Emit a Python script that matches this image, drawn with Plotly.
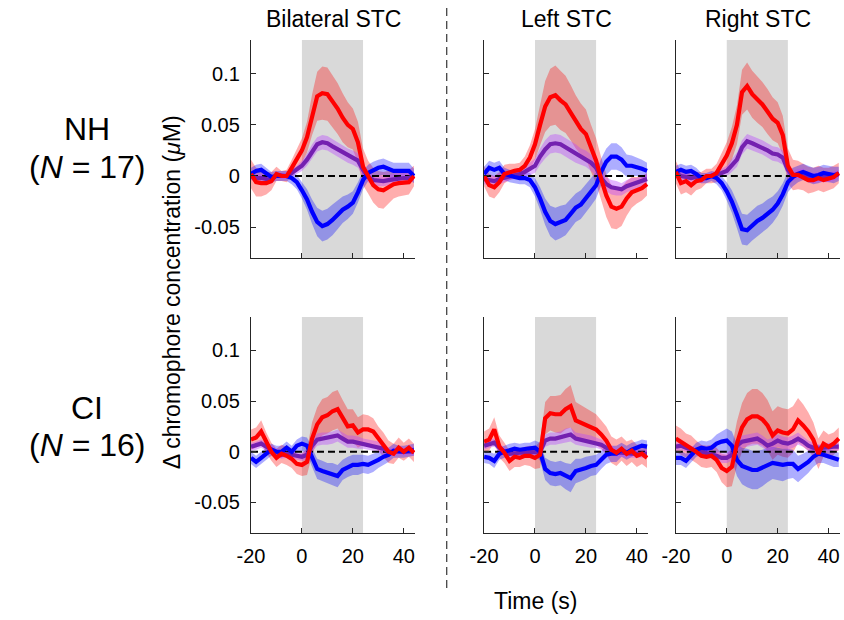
import plotly.graph_objects as go

# ---------------- data ----------------
time_s = [-20, -18, -16, -14, -12, -10, -8, -6, -4, -2, 0, 2, 4, 6, 8, 10, 12, 14,
          16, 18, 20, 22, 24, 26, 28, 30, 32, 34, 36, 38, 40, 42, 44]

# NH, bilateral STC
nh_bil_hbo = [0.002, -0.006, -0.007, -0.007, -0.005, 0.002, 0.0, 0.0, 0.008, 0.016, 0.025, 0.038, 0.06, 0.078, 0.081, 0.08, 0.073, 0.066,
              0.057, 0.05, 0.046, 0.033, 0.009, -0.001, -0.009, -0.013, -0.014, -0.011, -0.008, -0.007, -0.007, -0.006, 0.0]
nh_bil_hbo_err = [0.014, 0.014, 0.013, 0.011, 0.009, 0.007, 0.005, 0.006, 0.008, 0.01, 0.012, 0.015, 0.02, 0.024, 0.026, 0.026, 0.025, 0.025,
                  0.024, 0.022, 0.02, 0.02, 0.018, 0.016, 0.017, 0.018, 0.018, 0.016, 0.014, 0.013, 0.012, 0.012, 0.01]
nh_bil_hbr = [0.002, 0.005, 0.006, 0.002, -0.001, 0.0, 0.0, 0.0, -0.002, -0.006, -0.014, -0.023, -0.035, -0.045, -0.049, -0.047, -0.043, -0.038,
              -0.033, -0.03, -0.026, -0.016, -0.004, 0.003, 0.006, 0.008, 0.009, 0.007, 0.005, 0.005, 0.005, 0.005, 0.0]
nh_bil_hbr_err = [0.006, 0.006, 0.006, 0.006, 0.005, 0.005, 0.005, 0.005, 0.006, 0.007, 0.008, 0.01, 0.012, 0.014, 0.015, 0.015, 0.015, 0.014,
                  0.013, 0.012, 0.011, 0.01, 0.009, 0.008, 0.008, 0.008, 0.008, 0.008, 0.008, 0.008, 0.008, 0.008, 0.007]
nh_bil_hbt = [0.0, -0.002, -0.002, -0.003, -0.004, 0.001, 0.0, 0.0, 0.003, 0.006, 0.01, 0.016, 0.024, 0.031, 0.033, 0.032, 0.029, 0.026,
              0.023, 0.02, 0.018, 0.015, 0.006, -0.001, -0.004, -0.005, -0.005, -0.004, -0.003, -0.002, -0.002, -0.002, 0.0]
nh_bil_hbt_err = [0.004, 0.004, 0.004, 0.004, 0.004, 0.003, 0.003, 0.003, 0.004, 0.004, 0.005, 0.006, 0.007, 0.007, 0.007, 0.007, 0.007, 0.007,
                  0.007, 0.007, 0.007, 0.007, 0.006, 0.005, 0.005, 0.005, 0.005, 0.005, 0.005, 0.005, 0.005, 0.005, 0.004]

# NH, left STC
nh_left_hbo = [0.0, -0.009, -0.011, -0.006, 0.002, 0.004, 0.005, 0.006, 0.01, 0.018, 0.031, 0.05, 0.068, 0.077, 0.079, 0.074, 0.07, 0.062,
               0.053, 0.046, 0.041, 0.027, 0.015, -0.003, -0.019, -0.03, -0.032, -0.03, -0.022, -0.016, -0.014, -0.012, -0.008]
nh_left_hbo_err = [0.01, 0.011, 0.011, 0.01, 0.009, 0.008, 0.007, 0.007, 0.009, 0.012, 0.015, 0.02, 0.025, 0.028, 0.029, 0.029, 0.028, 0.027,
                   0.026, 0.025, 0.024, 0.023, 0.022, 0.021, 0.021, 0.021, 0.02, 0.019, 0.017, 0.015, 0.013, 0.012, 0.011]
nh_left_hbr = [0.002, 0.008, 0.006, 0.008, 0.002, 0.0, -0.001, -0.002, -0.002, -0.004, -0.011, -0.022, -0.035, -0.044, -0.047, -0.045, -0.043, -0.037,
               -0.031, -0.028, -0.022, -0.015, -0.009, 0.004, 0.014, 0.019, 0.019, 0.016, 0.01, 0.01, 0.009, 0.007, 0.005]
nh_left_hbr_err = [0.007, 0.007, 0.007, 0.007, 0.006, 0.006, 0.006, 0.006, 0.006, 0.007, 0.009, 0.011, 0.013, 0.015, 0.016, 0.016, 0.015, 0.015,
                   0.014, 0.014, 0.014, 0.014, 0.013, 0.013, 0.013, 0.013, 0.013, 0.012, 0.011, 0.01, 0.009, 0.009, 0.008]
nh_left_hbt = [-0.003, -0.004, -0.005, -0.003, -0.002, 0.0, 0.001, 0.002, 0.004, 0.007, 0.01, 0.019, 0.026, 0.031, 0.032, 0.031, 0.028, 0.025,
               0.022, 0.019, 0.017, 0.013, 0.008, -0.002, -0.008, -0.011, -0.012, -0.013, -0.01, -0.008, -0.007, -0.005, -0.003]
nh_left_hbt_err = [0.005, 0.005, 0.005, 0.005, 0.004, 0.004, 0.004, 0.004, 0.005, 0.006, 0.007, 0.008, 0.009, 0.009, 0.009, 0.009, 0.009, 0.009,
                   0.009, 0.008, 0.008, 0.008, 0.008, 0.007, 0.007, 0.007, 0.007, 0.006, 0.006, 0.006, 0.005, 0.005, 0.005]

# NH, right STC
nh_right_hbo = [0.004, -0.007, -0.005, -0.009, -0.005, -0.004, 0.0, 0.0, 0.003, 0.012, 0.02, 0.032, 0.05, 0.082, 0.088, 0.08, 0.075, 0.07,
                0.063, 0.056, 0.052, 0.04, 0.01, 0.001, 0.001, -0.001, -0.004, -0.004, -0.002, -0.004, -0.003, -0.001, 0.003]
nh_right_hbo_err = [0.011, 0.011, 0.011, 0.01, 0.009, 0.008, 0.007, 0.007, 0.009, 0.011, 0.013, 0.016, 0.019, 0.022, 0.023, 0.023, 0.023, 0.022,
                    0.022, 0.021, 0.02, 0.019, 0.017, 0.015, 0.014, 0.013, 0.013, 0.012, 0.012, 0.012, 0.011, 0.011, 0.01]
nh_right_hbr = [0.004, 0.006, 0.004, 0.005, 0.002, -0.002, -0.002, 0.0, -0.002, -0.007, -0.015, -0.025, -0.038, -0.052, -0.053, -0.048, -0.044, -0.041,
                -0.037, -0.033, -0.027, -0.018, -0.006, -0.001, 0.002, 0.004, 0.002, 0.0, 0.001, 0.003, 0.002, 0.001, 0.002]
nh_right_hbr_err = [0.006, 0.006, 0.006, 0.006, 0.006, 0.005, 0.005, 0.005, 0.006, 0.007, 0.009, 0.011, 0.013, 0.015, 0.015, 0.015, 0.015, 0.014,
                    0.014, 0.013, 0.012, 0.011, 0.01, 0.009, 0.008, 0.008, 0.008, 0.008, 0.008, 0.008, 0.008, 0.008, 0.007]
nh_right_hbt = [0.003, 0.0, -0.001, -0.002, -0.001, -0.003, -0.001, 0.0, 0.001, 0.003, 0.005, 0.01, 0.016, 0.028, 0.034, 0.032, 0.03, 0.028,
                0.025, 0.022, 0.021, 0.018, 0.006, 0.0, 0.002, 0.002, -0.001, -0.002, -0.001, -0.001, -0.001, 0.0, 0.002]
nh_right_hbt_err = [0.004, 0.004, 0.004, 0.004, 0.004, 0.004, 0.003, 0.003, 0.004, 0.004, 0.005, 0.006, 0.007, 0.007, 0.007, 0.007, 0.007, 0.007,
                    0.007, 0.007, 0.007, 0.007, 0.006, 0.005, 0.005, 0.005, 0.005, 0.005, 0.005, 0.005, 0.005, 0.005, 0.004]

# CI, bilateral STC
ci_bil_hbo = [0.012, 0.014, 0.02, 0.009, 0.0, -0.006, -0.002, -0.004, -0.007, -0.012, -0.013, -0.01, 0.013, 0.027, 0.034, 0.036, 0.04, 0.042,
              0.033, 0.025, 0.026, 0.019, 0.022, 0.022, 0.02, 0.013, 0.007, 0.0, -0.002, 0.004, 0.0, 0.004, -0.001]
ci_bil_hbo_err = [0.01, 0.01, 0.011, 0.01, 0.009, 0.009, 0.009, 0.009, 0.009, 0.01, 0.011, 0.013, 0.016, 0.017, 0.018, 0.018, 0.019, 0.019,
                  0.018, 0.017, 0.016, 0.015, 0.015, 0.014, 0.013, 0.012, 0.012, 0.011, 0.01, 0.01, 0.009, 0.009, 0.009]
ci_bil_hbr = [-0.006, -0.01, -0.006, -0.002, 0.002, 0.0, 0.0, 0.004, 0.0, 0.006, 0.008, 0.006, -0.006, -0.017, -0.019, -0.021, -0.022, -0.024,
              -0.018, -0.015, -0.013, -0.013, -0.012, -0.013, -0.011, -0.008, -0.005, -0.003, 0.001, 0.0, 0.0, 0.001, 0.002]
ci_bil_hbr_err = [0.006, 0.006, 0.006, 0.006, 0.006, 0.006, 0.006, 0.006, 0.006, 0.006, 0.007, 0.008, 0.009, 0.01, 0.01, 0.01, 0.011, 0.011,
                  0.01, 0.01, 0.01, 0.01, 0.009, 0.009, 0.009, 0.008, 0.008, 0.007, 0.007, 0.006, 0.006, 0.006, 0.006]
ci_bil_hbt = [0.005, 0.006, 0.008, 0.005, 0.002, -0.001, -0.003, -0.002, -0.003, -0.004, -0.005, -0.003, 0.006, 0.012, 0.013, 0.013, 0.014, 0.016,
              0.013, 0.01, 0.01, 0.009, 0.008, 0.007, 0.006, 0.005, 0.003, 0.0, 0.0, 0.001, 0.0, 0.001, 0.0]
ci_bil_hbt_err = [0.004, 0.004, 0.004, 0.004, 0.004, 0.004, 0.004, 0.004, 0.004, 0.004, 0.004, 0.005, 0.006, 0.006, 0.006, 0.006, 0.006, 0.006,
                  0.006, 0.006, 0.006, 0.006, 0.005, 0.005, 0.005, 0.005, 0.005, 0.004, 0.004, 0.004, 0.004, 0.004, 0.004]

# CI, left STC
ci_left_hbo = [0.01, 0.012, 0.022, 0.005, -0.001, -0.009, -0.005, -0.006, -0.004, -0.004, -0.006, -0.003, 0.033, 0.038, 0.037, 0.037, 0.042, 0.045,
               0.031, 0.029, 0.027, 0.025, 0.022, 0.017, 0.011, 0.002, -0.001, 0.003, -0.002, 0.001, -0.004, -0.002, -0.006]
ci_left_hbo_err = [0.01, 0.011, 0.012, 0.011, 0.01, 0.01, 0.01, 0.009, 0.009, 0.01, 0.011, 0.013, 0.016, 0.017, 0.018, 0.019, 0.02, 0.021,
                   0.018, 0.017, 0.016, 0.015, 0.015, 0.014, 0.014, 0.013, 0.013, 0.012, 0.012, 0.011, 0.011, 0.01, 0.01]
ci_left_hbr = [-0.005, -0.006, -0.009, -0.002, 0.0, 0.002, 0.003, 0.002, 0.003, 0.003, 0.004, 0.0, -0.017, -0.021, -0.022, -0.021, -0.024, -0.026,
               -0.019, -0.018, -0.016, -0.014, -0.013, -0.008, -0.003, -0.002, -0.002, 0.002, -0.001, 0.002, 0.004, 0.006, 0.005]
ci_left_hbr_err = [0.006, 0.006, 0.007, 0.006, 0.006, 0.006, 0.006, 0.006, 0.006, 0.006, 0.007, 0.009, 0.011, 0.012, 0.012, 0.012, 0.013, 0.014,
                   0.012, 0.011, 0.011, 0.01, 0.01, 0.009, 0.009, 0.008, 0.008, 0.007, 0.007, 0.007, 0.006, 0.006, 0.006]
ci_left_hbt = [0.006, 0.008, 0.009, 0.004, 0.0, -0.002, -0.001, -0.001, -0.001, -0.001, -0.001, 0.0, 0.011, 0.013, 0.013, 0.014, 0.016, 0.017,
               0.013, 0.012, 0.011, 0.01, 0.009, 0.007, 0.004, 0.001, -0.001, -0.001, -0.002, -0.002, -0.002, -0.002, -0.002]
ci_left_hbt_err = [0.004, 0.004, 0.004, 0.004, 0.004, 0.004, 0.004, 0.004, 0.004, 0.004, 0.004, 0.005, 0.006, 0.006, 0.006, 0.006, 0.007, 0.007,
                   0.006, 0.006, 0.006, 0.006, 0.005, 0.005, 0.005, 0.005, 0.004, 0.004, 0.004, 0.004, 0.004, 0.004, 0.004]

# CI, right STC
ci_right_hbo = [0.013, 0.01, 0.006, 0.004, 0.0, -0.004, -0.005, -0.004, -0.008, -0.016, -0.019, -0.015, 0.008, 0.024, 0.032, 0.035, 0.035, 0.032,
                0.026, 0.016, 0.021, 0.019, 0.018, 0.022, 0.031, 0.026, 0.02, 0.012, -0.002, 0.008, 0.005, 0.008, 0.013]
ci_right_hbo_err = [0.013, 0.013, 0.012, 0.012, 0.011, 0.011, 0.011, 0.011, 0.012, 0.014, 0.016, 0.019, 0.022, 0.024, 0.026, 0.027, 0.027, 0.026,
                    0.025, 0.024, 0.024, 0.024, 0.024, 0.023, 0.022, 0.021, 0.019, 0.017, 0.015, 0.013, 0.012, 0.011, 0.011]
ci_right_hbr = [-0.006, -0.006, -0.009, -0.003, 0.002, 0.004, 0.003, 0.004, 0.008, 0.01, 0.011, 0.006, -0.008, -0.014, -0.016, -0.018, -0.018, -0.016,
                -0.013, -0.011, -0.012, -0.013, -0.012, -0.012, -0.017, -0.014, -0.01, -0.005, -0.002, -0.003, -0.005, -0.007, -0.008]
ci_right_hbr_err = [0.007, 0.007, 0.007, 0.007, 0.007, 0.007, 0.007, 0.008, 0.009, 0.01, 0.012, 0.014, 0.016, 0.018, 0.019, 0.019, 0.019, 0.018,
                    0.017, 0.016, 0.016, 0.016, 0.015, 0.014, 0.013, 0.012, 0.011, 0.01, 0.009, 0.008, 0.008, 0.008, 0.007]
ci_right_hbt = [0.005, 0.006, 0.004, 0.002, 0.001, 0.0, -0.001, -0.003, -0.004, -0.006, -0.006, -0.003, 0.006, 0.01, 0.011, 0.012, 0.013, 0.01,
                0.006, 0.008, 0.011, 0.009, 0.008, 0.01, 0.013, 0.01, 0.006, 0.004, 0.003, 0.004, 0.005, 0.005, 0.005]
ci_right_hbt_err = [0.004, 0.004, 0.004, 0.004, 0.004, 0.004, 0.004, 0.004, 0.004, 0.005, 0.005, 0.006, 0.006, 0.006, 0.006, 0.006, 0.006, 0.006,
                    0.006, 0.006, 0.006, 0.006, 0.006, 0.006, 0.006, 0.005, 0.005, 0.005, 0.004, 0.004, 0.004, 0.004, 0.004]

panel_titles = ["Bilateral STC", "Left STC", "Right STC"]
row_names = ["NH", "CI"]
row_counts = [17, 16]
stim_window = [0, 24]
x_range = [-20, 44.5]
y_range = [-0.0802, 0.133]
x_tickvals = [-20, 0, 20, 40]
x_ticktext = ["-20", "0", "20", "40"]
y_tickvals = [-0.05, 0, 0.05, 0.1]
y_ticktext = ["-0.05", "0", "0.05", "0.1"]

panels = [
    (nh_bil_hbo, nh_bil_hbo_err, nh_bil_hbr, nh_bil_hbr_err, nh_bil_hbt, nh_bil_hbt_err),
    (nh_left_hbo, nh_left_hbo_err, nh_left_hbr, nh_left_hbr_err, nh_left_hbt, nh_left_hbt_err),
    (nh_right_hbo, nh_right_hbo_err, nh_right_hbr, nh_right_hbr_err, nh_right_hbt, nh_right_hbt_err),
    (ci_bil_hbo, ci_bil_hbo_err, ci_bil_hbr, ci_bil_hbr_err, ci_bil_hbt, ci_bil_hbt_err),
    (ci_left_hbo, ci_left_hbo_err, ci_left_hbr, ci_left_hbr_err, ci_left_hbt, ci_left_hbt_err),
    (ci_right_hbo, ci_right_hbo_err, ci_right_hbr, ci_right_hbr_err, ci_right_hbt, ci_right_hbt_err),
]

# ---------------- layout geometry (pixels) ----------------
W, H = 844, 620
col_px = [(241, 408), (478, 645), (673, 840)]
row_px = [(40, 258), (317, 533)]

FONT = "Arial, 'Liberation Sans', Helvetica, sans-serif"
AX_COL = "#262626"

RED, BLUE, PURPLE = "#ff0000", "#0000ff", "#7420b0"
RED_BAND = "rgba(255,0,0,0.32)"
BLUE_BAND = "rgba(0,0,255,0.32)"
PURPLE_BAND = "rgba(185,70,255,0.40)"

fig = go.Figure()
layout = dict(
    width=W, height=H, margin=dict(l=0, r=0, t=0, b=0),
    paper_bgcolor="white", plot_bgcolor="white", showlegend=False,
    font=dict(family=FONT, color="#000000"),
)
shapes = []
annotations = []

def band(x, m, e, color, xa, ya):
    up = [a + b for a, b in zip(m, e)]
    lo = [a - b for a, b in zip(m, e)]
    return go.Scatter(x=list(x) + list(x)[::-1], y=up + lo[::-1], fill="toself",
                      fillcolor=color, line=dict(width=0), mode="lines",
                      hoverinfo="skip", xaxis=xa, yaxis=ya)

for idx, (hbo, hbo_e, hbr, hbr_e, hbt, hbt_e) in enumerate(panels):
    r, c = divmod(idx, 3)
    n = idx + 1
    sfx = "" if n == 1 else str(n)
    xa, ya = f"x{sfx}", f"y{sfx}"
    xk, yk = f"xaxis{sfx}", f"yaxis{sfx}"
    x0, x1 = col_px[c]
    y0, y1 = row_px[r]
    layout[xk] = dict(
        domain=[x0 / W, x1 / W], range=x_range, anchor=ya,
        showline=True, linecolor=AX_COL, linewidth=1.3, mirror=False,
        ticks="inside", ticklen=5, tickwidth=1.2, tickcolor=AX_COL,
        tickvals=x_tickvals, ticktext=x_ticktext, showticklabels=(r == 1),
        tickfont=dict(size=20, family=FONT, color="#000"), ticklabelstandoff=5,
        showgrid=False, zeroline=False, fixedrange=True,
    )
    layout[yk] = dict(
        domain=[1 - y1 / H, 1 - y0 / H], range=y_range, anchor=xa,
        showline=True, linecolor=AX_COL, linewidth=1.3, mirror=False,
        ticks="inside", ticklen=5, tickwidth=1.2, tickcolor=AX_COL,
        tickvals=y_tickvals, ticktext=y_ticktext, showticklabels=(c == 0),
        tickfont=dict(size=20, family=FONT, color="#000"), ticklabelstandoff=6,
        showgrid=False, zeroline=False, fixedrange=True,
    )
    # stimulus period shading
    shapes.append(dict(type="rect", xref=xa, yref=f"{ya} domain",
                       x0=stim_window[0], x1=stim_window[1], y0=0, y1=1,
                       fillcolor="#d9d9d9", line=dict(width=0), layer="below"))
    # error bands
    fig.add_trace(band(time_s, hbo, hbo_e, RED_BAND, xa, ya))
    fig.add_trace(band(time_s, hbr, hbr_e, BLUE_BAND, xa, ya))
    fig.add_trace(band(time_s, hbt, hbt_e, PURPLE_BAND, xa, ya))
    # zero reference
    fig.add_trace(go.Scatter(x=x_range, y=[0, 0], mode="lines",
                             line=dict(color="#000", width=1.8, dash="7px,4px"),
                             hoverinfo="skip", xaxis=xa, yaxis=ya))
    # mean lines
    fig.add_trace(go.Scatter(x=time_s, y=hbt, mode="lines", line=dict(color=PURPLE, width=4.2),
                             xaxis=xa, yaxis=ya))
    fig.add_trace(go.Scatter(x=time_s, y=hbr, mode="lines", line=dict(color=BLUE, width=4.2),
                             xaxis=xa, yaxis=ya))
    fig.add_trace(go.Scatter(x=time_s, y=hbo, mode="lines", line=dict(color=RED, width=4.2),
                             xaxis=xa, yaxis=ya))

# column titles
for c, t in enumerate(panel_titles):
    x0, x1 = col_px[c]
    annotations.append(dict(text=t, x=(x0 + x1) / 2 / W, y=1 - 19 / H, xref="paper", yref="paper",
                            showarrow=False, xanchor="center", yanchor="middle",
                            font=dict(size=23, family=FONT, color="#000")))

# row labels
row_label_y = [(129, 167), (408, 445)]
for r in range(2):
    ya_, yb_ = row_label_y[r]
    annotations.append(dict(text=row_names[r], x=74 / W, y=1 - ya_ / H, xref="paper", yref="paper",
                            showarrow=False, xanchor="center", yanchor="middle",
                            font=dict(size=32, family=FONT, color="#000")))
    annotations.append(dict(text=f"(<i>N</i> = {row_counts[r]})", x=74 / W, y=1 - yb_ / H,
                            xref="paper", yref="paper", showarrow=False,
                            xanchor="center", yanchor="middle",
                            font=dict(size=32, family=FONT, color="#000")))

# shared axis titles
annotations.append(dict(text="Δ chromophore concentration (<i>μ</i>M)", x=161 / W, y=1 - 292 / H,
                        xref="paper", yref="paper", showarrow=False, textangle=-90,
                        xanchor="center", yanchor="middle",
                        font=dict(size=23, family=FONT, color="#000")))
annotations.append(dict(text="Time (s)", x=530 / W, y=1 - 601 / H, xref="paper", yref="paper",
                        showarrow=False, xanchor="center", yanchor="middle",
                        font=dict(size=23, family=FONT, color="#000")))

# dashed separator between bilateral and unilateral panels
shapes.append(dict(type="line", xref="paper", yref="paper", x0=440 / W, x1=440 / W,
                   y0=1 - 8 / H, y1=1 - 588 / H, line=dict(color="#444", width=1.3, dash="8px,5px")))

layout["shapes"] = shapes
layout["annotations"] = annotations
fig.update_layout(**layout)
fig.write_html("out.html")
